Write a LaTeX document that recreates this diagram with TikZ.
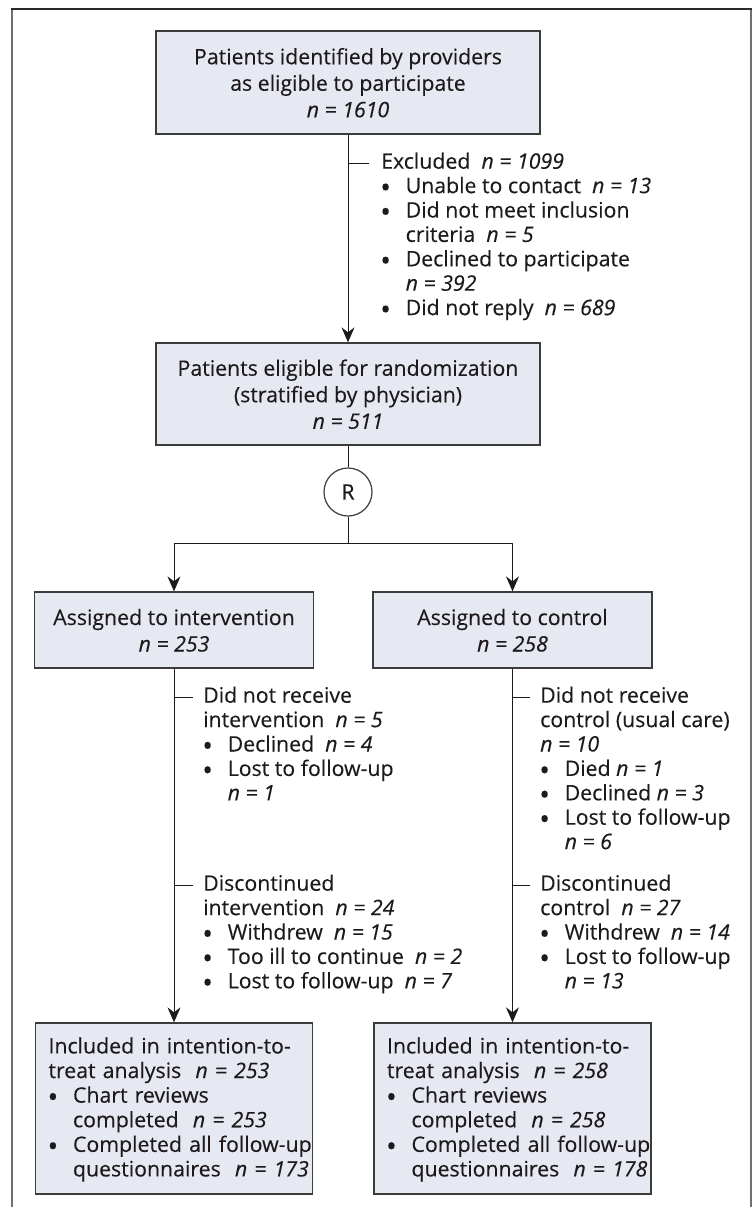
\documentclass[tikz,border=0pt]{standalone}
\usepackage{fontspec}
\setmainfont{Open Sans}[FakeBold=0.25]
\usetikzlibrary{arrows.meta}
\definecolor{boxfill}{HTML}{E6E8F2}
\definecolor{ink}{HTML}{1E1A1B}
\definecolor{edge}{HTML}{3C3C3C}
\definecolor{framegray}{HTML}{707070}
\definecolor{framedark}{HTML}{2A2A2A}
\setlength\parindent{0pt}
\newcommand\st{\rule[-1.5pt]{0pt}{19.5pt}}
\newcommand\bul{\makebox[24.5pt][l]{\hspace*{-1pt}\raisebox{-4.4pt}[0pt][0pt]{\scalebox{1.35}{•}}}}
\newcommand\ind{\hspace*{24.5pt}}
\newcommand\nv[1]{\textit{n = #1}}
\newcommand\bline[1]{\mbox{\st #1}}
\tikzset{
  box/.style={draw=edge, line width=1.3pt, fill=boxfill, inner sep=0pt, text=ink,
    align=center, font=\fontsize{21.3}{26.5}\selectfont},
  leftbox/.style={box, align=left, text width=251pt, inner xsep=13pt},
  listtext/.style={anchor=north west, inner sep=0pt, align=left, text=ink,
    font=\fontsize{21.3}{24.4}\selectfont},
  conn/.style={draw=ink, line width=1pt},
  arr/.style={conn, -{Stealth[length=15pt,width=13pt,inset=5pt]}},
}
\begin{document}
\begin{tikzpicture}[x=1pt,y=-1pt]
\useasboundingbox (0,0) rectangle (752,1207);
% frame
\draw[framegray, line width=2pt] (11.5,1207) -- (11.5,9.5);
\draw[framegray, line width=2pt] (751,1207) -- (751,9.5);
\draw[framedark, line width=2pt] (10.5,9.5) -- (752,9.5);

% boxes
\node[box, minimum width=384pt, minimum height=103pt] (b1) at (348,82.5)
  {\st Patients identified by providers\\\st as eligible to participate\\\st\nv{1610}};
\node[box, minimum width=384pt, minimum height=102pt] (b2) at (348,394)
  {\st Patients eligible for randomization\\\st (stratified by physician)\\\st\nv{511}};
\node[draw=edge, line width=1.2pt, circle, minimum size=48pt, inner sep=0pt, text=ink,
  font=\fontsize{21.3}{24}\selectfont] (R) at (348,492) {R};
\node[box, minimum width=279pt, minimum height=76pt] (b3) at (174,630)
  {\st Assigned to intervention\\\st\nv{253}};
\node[box, minimum width=279pt, minimum height=76pt] (b4) at (512.5,630)
  {\st Assigned to control\\\st\nv{258}};
\node[leftbox, minimum height=171pt, font=\fontsize{21.3}{24.6}\selectfont] (b5) at (174,1108.5)
  {\bline{Included in intention-to-}\\
   \bline{treat analysis\ \ \nv{253}}\\
   \bline{\bul Chart reviews}\\
   \bline{\ind completed\ \ \nv{253}}\\
   \bline{\bul Completed all follow-up}\\
   \bline{\ind questionnaires\ \ \nv{173}}};
\node[leftbox, minimum height=171pt, font=\fontsize{21.3}{24.6}\selectfont] (b6) at (512.5,1108.5)
  {\bline{Included in intention-to-}\\
   \bline{treat analysis\ \ \nv{258}}\\
   \bline{\bul Chart reviews}\\
   \bline{\ind completed\ \ \nv{258}}\\
   \bline{\bul Completed all follow-up}\\
   \bline{\ind questionnaires\ \ \nv{178}}};

% side texts
\node[listtext] (ex) at (381,150.5)
  {\st Excluded\ \ \nv{1099}\\
   \st\bul Unable to contact\ \ \nv{13}\\
   \st\bul Did not meet inclusion\\
   \st\ind criteria\ \ \nv{5}\\
   \st\bul Declined to participate\\
   \st\ind\nv{392}\\
   \st\bul Did not reply\ \ \nv{689}};
\node[listtext] (l1) at (203,684.5)
  {\st Did not receive\\
   \st intervention\ \ \nv{5}\\
   \st\bul Declined\ \ \nv{4}\\
   \st\bul Lost to follow-up\\
   \st\ind\nv{1}};
\node[listtext] (r1) at (540,684.5)
  {\st Did not receive\\
   \st control (usual care)\\
   \st\nv{10}\\
   \st\bul Died \nv{1}\\
   \st\bul Declined \nv{3}\\
   \st\bul Lost to follow-up\\
   \st\ind\nv{6}};
\node[listtext] (l2) at (203,872.5)
  {\st Discontinued\\
   \st intervention\ \ \nv{24}\\
   \st\bul Withdrew\ \ \nv{15}\\
   \st\bul Too ill to continue\ \ \nv{2}\\
   \st\bul Lost to follow-up\ \ \nv{7}};
\node[listtext] (r2) at (540,872.5)
  {\st Discontinued\\
   \st control\ \ \nv{27}\\
   \st\bul Withdrew\ \ \nv{14}\\
   \st\bul Lost to follow-up\\
   \st\ind\nv{13}};

% connectors
\coordinate (split) at (348,543);
\draw[arr] (b1.south) -- (b2.north);
\draw[conn] (b2.south) -- (R.north);
\draw[conn] (R.south) -- (split);
\draw[arr] (split) -| (b3.north);
\draw[arr] (split) -| (b4.north);
\draw[arr] (b3.south) -- (b5.north);
\draw[arr] (b4.south) -- (b6.north);

% ticks
\coordinate (t1a) at (348,163);   \coordinate (t1b) at (369,163);
\coordinate (t2a) at (174,697);   \coordinate (t2b) at (193,697);
\coordinate (t3a) at (512.5,697); \coordinate (t3b) at (530,697);
\coordinate (t4a) at (174,885);   \coordinate (t4b) at (193,885);
\coordinate (t5a) at (512.5,885); \coordinate (t5b) at (530,885);
\foreach \t in {1,...,5} \draw[conn] (t\t a) -- (t\t b);
\end{tikzpicture}
\end{document}
